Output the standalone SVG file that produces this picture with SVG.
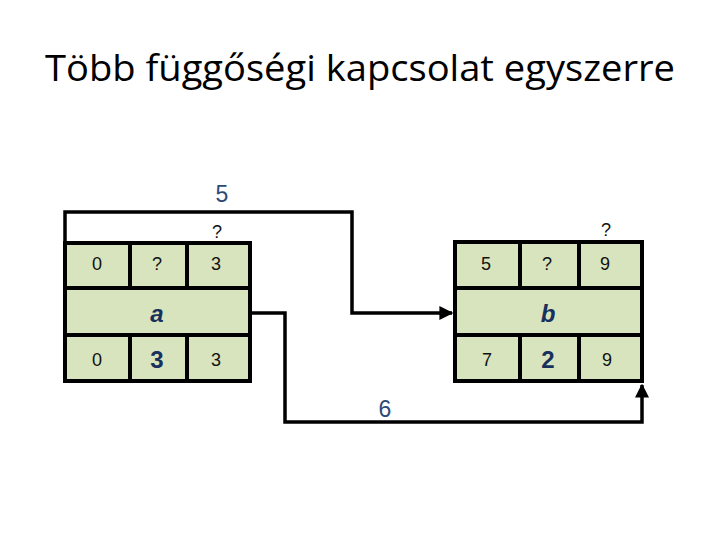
<svg xmlns="http://www.w3.org/2000/svg" width="720" height="540" viewBox="0 0 720 540">
<defs>
<style>
.cell{fill:#D7E4BD;stroke:#000;stroke-width:4}
.t{font-family:"Liberation Sans",Arial,sans-serif;font-size:18px;fill:#111;text-anchor:middle}
.b{font-family:"Liberation Sans",Arial,sans-serif;font-size:24px;font-weight:bold;fill:#17305E;text-anchor:middle}
.bi{font-family:"Liberation Sans",Arial,sans-serif;font-size:24px;font-weight:bold;font-style:italic;fill:#17305E;text-anchor:middle}
.lbl{font-family:"Liberation Sans",Arial,sans-serif;font-size:23px;fill:#2E4A78;text-anchor:middle}
.ln{fill:none;stroke:#000;stroke-width:3.5}
</style>
<marker id="arr" viewBox="0 0 10 10" refX="9" refY="5" markerWidth="4" markerHeight="4" orient="auto" markerUnits="strokeWidth">
<path d="M0,0 L10,5 L0,10 z" fill="#000"/>
</marker>
</defs>
<rect width="720" height="540" fill="#fff"/>
<text x="360" y="81" font-family="'Open Sans','Noto Sans',sans-serif" font-size="37" fill="#000" text-anchor="middle" textLength="630" lengthAdjust="spacingAndGlyphs">Több függőségi kapcsolat egyszerre</text>

<g id="connectors">
<polyline class="ln" points="65,312 65,212 352,212 352,313 452,313" marker-end="url(#arr)"/>
<polyline class="ln" points="250,313 285,313 285,422 642,422 642,385" marker-end="url(#arr)"/>
</g>

<g id="node-a">
<rect class="cell" x="65" y="243" width="65" height="45"/>
<rect class="cell" x="130" y="243" width="57" height="45"/>
<rect class="cell" x="187" y="243" width="63" height="45"/>
<rect class="cell" x="65" y="288" width="185" height="47"/>
<rect class="cell" x="65" y="335" width="65" height="46"/>
<rect class="cell" x="130" y="335" width="57" height="46"/>
<rect class="cell" x="187" y="335" width="63" height="46"/>
<text class="t" x="97" y="270">0</text>
<text class="t" x="157" y="270">?</text>
<text class="t" x="216" y="270">3</text>
<text class="bi" x="157" y="322">a</text>
<text class="t" x="97" y="366">0</text>
<text class="b" x="157" y="368">3</text>
<text class="t" x="216" y="366">3</text>
<text class="t" x="217" y="238">?</text>
</g>

<g id="node-b">
<rect class="cell" x="455" y="242" width="65" height="46"/>
<rect class="cell" x="520" y="242" width="59" height="46"/>
<rect class="cell" x="579" y="242" width="63" height="46"/>
<rect class="cell" x="455" y="288" width="187" height="47"/>
<rect class="cell" x="455" y="335" width="65" height="46"/>
<rect class="cell" x="520" y="335" width="59" height="46"/>
<rect class="cell" x="579" y="335" width="63" height="46"/>
<text class="t" x="486" y="270">5</text>
<text class="t" x="547" y="270">?</text>
<text class="t" x="605" y="270">9</text>
<text class="bi" x="548" y="322">b</text>
<text class="t" x="487" y="366">7</text>
<text class="b" x="548" y="368">2</text>
<text class="t" x="607" y="366">9</text>
<text class="t" x="606" y="236">?</text>
</g>

<text class="lbl" x="222" y="202">5</text>
<text class="lbl" x="385" y="417">6</text>
</svg>
